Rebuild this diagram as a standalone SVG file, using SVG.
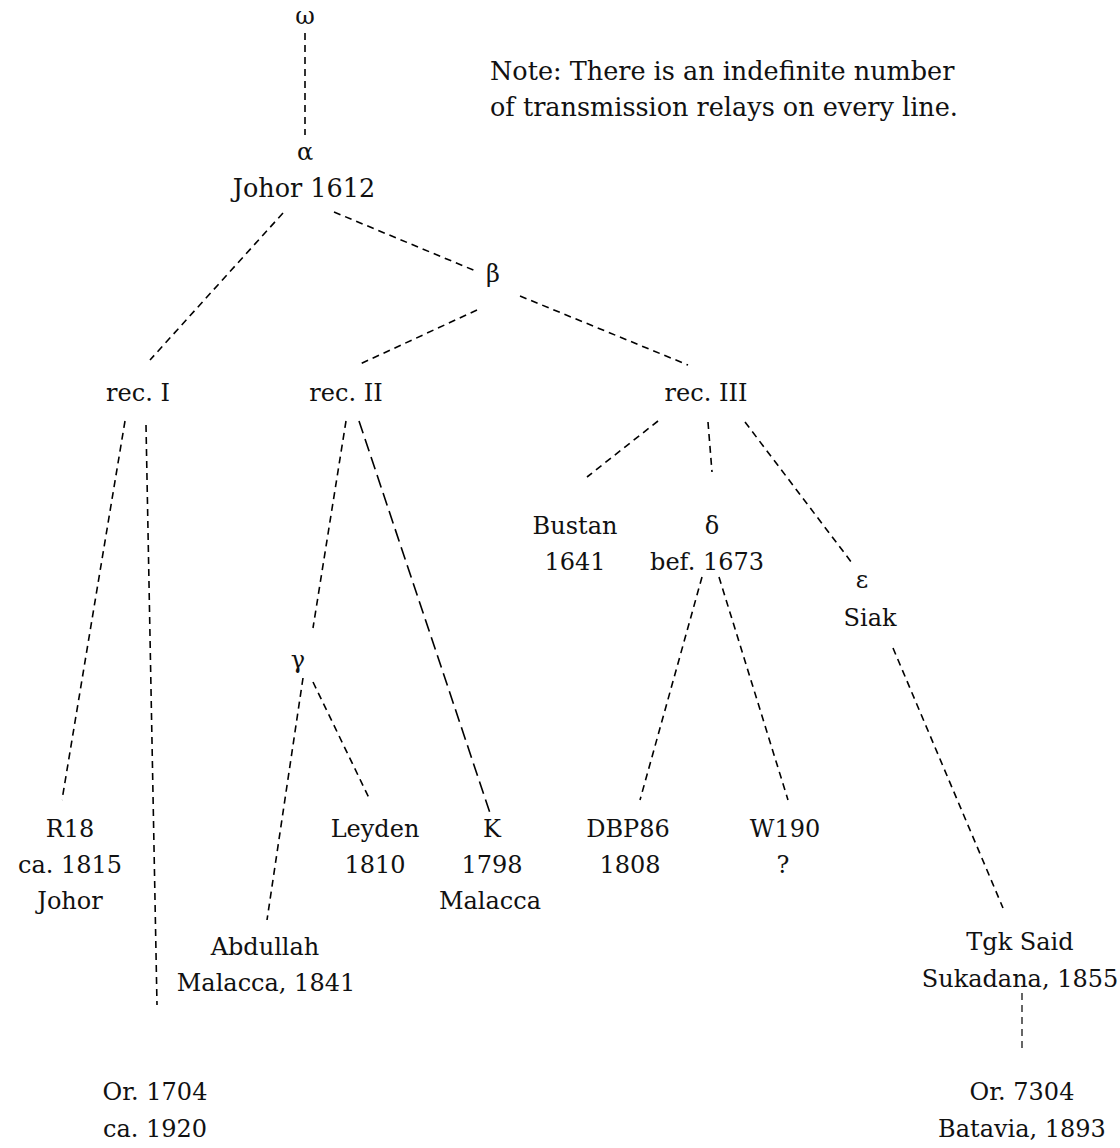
<svg xmlns="http://www.w3.org/2000/svg" width="1120" height="1148" viewBox="0 0 1120 1148">
<style>
text{font-family:"DejaVu Serif","Liberation Serif",serif;font-size:24px;fill:#111;text-anchor:middle}
.note{text-anchor:start;font-size:25.5px}
.big{font-size:25.5px}
line{stroke:#000;stroke-width:1.6;stroke-dasharray:7 5;fill:none}
.long{stroke-dasharray:13 6}
.thin{stroke-width:1.2}
</style>
<rect width="1120" height="1148" fill="#fff"/>
<g id="connectors">
<line x1="305" y1="33" x2="305" y2="135"/>
<line x1="283" y1="213" x2="150" y2="360"/>
<line x1="334" y1="212" x2="478" y2="272"/>
<line x1="477" y1="310" x2="358" y2="365"/>
<line x1="520" y1="296" x2="688" y2="365"/>
<line x1="125" y1="421" x2="62" y2="800"/>
<line x1="146" y1="425" x2="157" y2="1005"/>
<line x1="346" y1="421" x2="313" y2="628"/>
<line class="long" x1="359" y1="421" x2="491" y2="816"/>
<line x1="303" y1="678" x2="267" y2="920"/>
<line x1="313" y1="682" x2="370" y2="800"/>
<line x1="658" y1="421" x2="587" y2="477"/>
<line x1="708" y1="422" x2="712" y2="472"/>
<line x1="745" y1="422" x2="852" y2="563"/>
<line x1="702" y1="577" x2="640" y2="800"/>
<line x1="719" y1="577" x2="788" y2="800"/>
<line x1="893" y1="648" x2="1003" y2="908"/>
<line class="thin" x1="1022" y1="993" x2="1022" y2="1050"/>
</g>
<g id="note"><text class="note" x="490" y="80">Note: There is an indefinite number</text><text class="note" x="490" y="116">of transmission relays on every line.</text></g>
<g id="omega"><text x="305" y="24">ω</text></g>
<g id="alpha"><text x="305" y="160">α</text><text class="big" x="304" y="197">Johor 1612</text></g>
<g id="beta"><text x="493" y="282">β</text></g>
<g id="recI"><text x="138" y="401">rec. I</text></g>
<g id="recII"><text x="346" y="401">rec. II</text></g>
<g id="recIII"><text x="706" y="401">rec. III</text></g>
<g id="bustan"><text x="575" y="534">Bustan</text><text x="575" y="570">1641</text></g>
<g id="delta"><text x="712" y="534">δ</text><text x="707" y="570">bef. 1673</text></g>
<g id="epsilon"><text x="862" y="588">ε</text><text x="870" y="626">Siak</text></g>
<g id="gamma"><text x="298" y="668">γ</text></g>
<g id="R18"><text x="70" y="837">R18</text><text x="70" y="873">ca. 1815</text><text x="70" y="909">Johor</text></g>
<g id="leyden"><text x="375" y="837">Leyden</text><text x="375" y="873">1810</text></g>
<g id="K"><text x="492" y="837">K</text><text x="492" y="873">1798</text><text x="490" y="909">Malacca</text></g>
<g id="DBP86"><text x="628" y="837">DBP86</text><text x="630" y="873">1808</text></g>
<g id="W190"><text x="785" y="837">W190</text><text x="783" y="873">?</text></g>
<g id="abdullah"><text x="265" y="955">Abdullah</text><text x="266" y="991">Malacca, 1841</text></g>
<g id="tgksaid"><text x="1020" y="950">Tgk Said</text><text x="1020" y="987">Sukadana, 1855</text></g>
<g id="or1704"><text x="155" y="1100">Or. 1704</text><text x="155" y="1137">ca. 1920</text></g>
<g id="or7304"><text x="1022" y="1100">Or. 7304</text><text x="1022" y="1137">Batavia, 1893</text></g>
</svg>
